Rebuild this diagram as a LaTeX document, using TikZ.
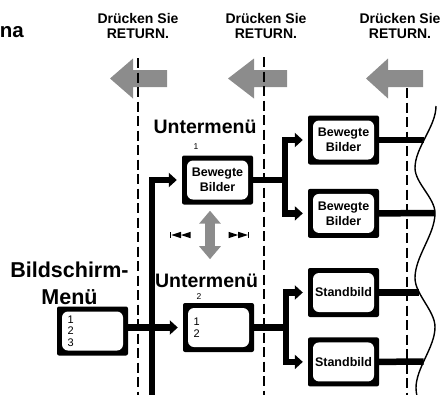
\documentclass[tikz,border=0pt]{standalone}
\usepackage{fontspec}
\setmainfont{Liberation Sans}
\usetikzlibrary{arrows.meta,positioning}

\begin{document}
\begin{tikzpicture}[
    x=1pt, y=-1pt,
    every node/.style={inner sep=0pt},
    screen/.style={fill=black, rounded corners=2pt, minimum width=71pt, minimum height=49pt,
        align=center, font=\bfseries\fontsize{12.5}{15}\selectfont,
        path picture={\fill[white, rounded corners=6pt]
            ([shift={(5pt,5pt)}]path picture bounding box.south west) rectangle
            ([shift={(-5pt,-5pt)}]path picture bounding box.north east);}},
    listing/.style={screen, text width=50pt, align=left, font=\fontsize{11}{11.7}\selectfont},
    heading/.style={font=\bfseries\fontsize{20.5}{27}\selectfont, align=center},
    subheading/.style={font=\bfseries\fontsize{19.5}{24}\selectfont, anchor=base},
    hint/.style={font=\bfseries\fontsize{14}{15}\selectfont, align=center, anchor=north},
    tag/.style={font=\fontsize{8.5}{10}\selectfont, anchor=base},
    flow/.style={line width=6.5pt, -{Triangle[length=8pt, width=14pt]}, shorten >=5pt},
    link/.style={line width=6.5pt},
    divider/.style={line width=2.2pt, dash pattern=on 10pt off 4.5pt},
    backarrow/.style={fill=black!45},
    scroll/.style={line width=10pt, draw=black!45, {Triangle[length=13pt, width=21pt]}-{Triangle[length=13pt, width=21pt]}},
    wave/.style={line width=1.4pt}
]
\useasboundingbox (0,0) rectangle (442,394);

% return hints
\node[hint] (ret1) at (138,12.8) {Drücken Sie\\RETURN.};
\node[hint] (ret2) at (266,12.8) {Drücken Sie\\RETURN.};
\node[hint] (ret3) at (400,12.8) {Drücken Sie\\RETURN.};
\fill[backarrow] (110,78.5) -- ++(23,-20) -- ++(0,11.5) -- ++(34,0) -- ++(0,17) -- ++(-34,0) -- ++(0,11.5) -- cycle;
\fill[backarrow] (228,78.5) -- ++(26,-20) -- ++(0,11.5) -- ++(33,0) -- ++(0,17) -- ++(-33,0) -- ++(0,11.5) -- cycle;
\fill[backarrow] (366,78.5) -- ++(22,-20) -- ++(0,11.5) -- ++(35,0) -- ++(0,17) -- ++(-35,0) -- ++(0,11.5) -- cycle;
\draw[divider] (138,58) -- (138,396);
\draw[divider] (264,57) -- (264,396);
\draw[divider] (407,88) -- (407,396);

% labels
\node[heading, anchor=base east] (title) at (24,37.3) {na};
\node[heading, anchor=north, font=\bfseries\fontsize{21.5}{27}\selectfont] (mainlabel) at (69.5,261.7) {Bildschirm-\\Menü};
\node[subheading] (sublabel1) at (205,133) {Untermenü};
\node[subheading] (sublabel2) at (206.5,287) {Untermenü};
\node[tag] (num1) at (196,149.3) {1};
\node[tag] (num2) at (199,299.3) {2};

% screens
\node[listing] (menu) at (92.5,331) {1\\2\\3};
\node[screen] (sub1) at (217.5,180) {Bewegte\\Bilder};
\node[listing] (sub2) at (218.5,327.5) {1\\2};
\node[screen] (movie1) at (343.5,140) {Bewegte\\Bilder};
\node[screen, below=24pt of movie1] (movie2) {Bewegte\\Bilder};
\node[screen] (still1) at (343.5,292.5) {Standbild};
\node[screen, below=20pt of still1] (still2) {Standbild};

% skip buttons and scrolling
\fill (170,231.8) rectangle (171.4,238.2);
\fill (171.4,235) -- (181,231.8) -- (181,238.2) -- cycle;
\fill (181,235) -- (190.6,231.8) -- (190.6,238.2) -- cycle;
\fill (228.6,231.8) -- (238.2,235) -- (228.6,238.2) -- cycle;
\fill (238.2,231.8) -- (247.8,235) -- (238.2,238.2) -- cycle;
\fill (247.8,231.8) rectangle (249.2,238.2);
\draw[scroll] ([xshift=-7.5pt]sub1.south) ++(0,6) -- ++(0,48.5);

% connections
\coordinate (feed) at (152,396);
\draw[flow] (feed) |- (sub1.west);
\draw[flow] (menu.east |- sub2.west) -- (sub2.west);
\draw[link] (sub1.east) -- ++(32,0) coordinate (fork1);
\draw[flow] (fork1) |- (movie1.west);
\draw[flow] (fork1) |- (movie2.west);
\draw[link] (sub2.east) -- ++(32,0) coordinate (fork2);
\draw[flow] (fork2) |- (still1.west);
\draw[flow] (fork2) |- (still2.west);

% cut edge
\coordinate (w1) at (424,140);
\coordinate (w2) at (435,213);
\coordinate (w3) at (419,292.5);
\coordinate (w4) at (423.6,361.5);
\draw[link] (movie1.east) -- (w1);
\draw[link] (movie2.east) -- (w2);
\draw[link] (still1.east) -- (w3);
\draw[link] (still2.east) -- (w4);
\draw[wave] (436,106) .. controls (436,126.7) and (415,147.3) .. (415,168)
    .. controls (415,183) and (435,198) .. (435,213)
    .. controls (435,234.7) and (415,256.3) .. (415,278)
    .. controls (415,294.3) and (435,310.7) .. (435,327)
    .. controls (435,347.3) and (416,367.7) .. (416,388)
    .. controls (416,391) and (416.5,394) .. (417,396);
\end{tikzpicture}
\end{document}
